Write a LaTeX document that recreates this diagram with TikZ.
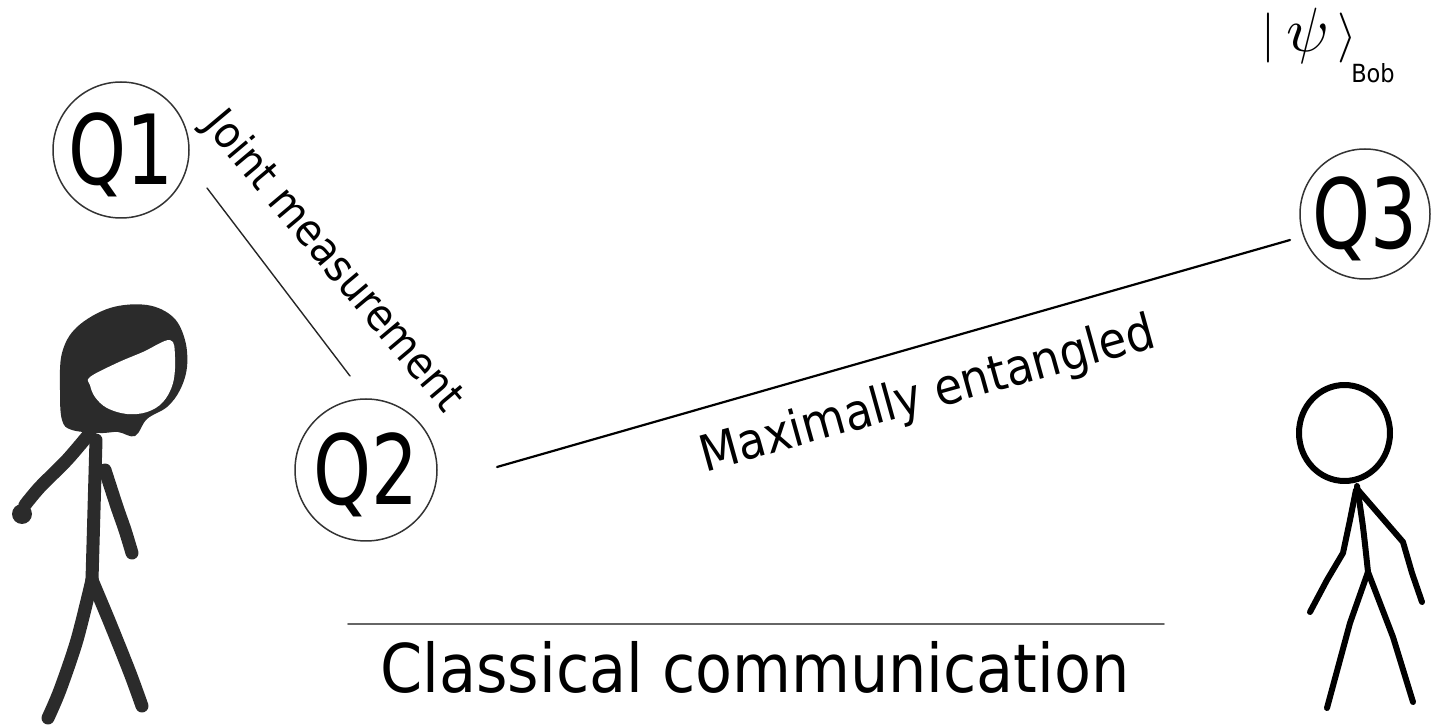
\documentclass[tikz,border=0pt]{standalone}
\usepackage{graphicx}
\usepackage{fontspec}
\setmainfont{DejaVu Sans Condensed}
\newcommand\setfs[1]{\fontsize{#1pt}{#1pt}\selectfont}
\definecolor{alicegray}{HTML}{2B2B2B}
\begin{document}
\begin{tikzpicture}[x=0.5pt,y=-0.5pt,
  qubit/.style={circle,draw=black!80,line width=0.75pt,minimum size=#1,
    inner sep=0pt,text height=35pt,text depth=0pt,font=\setfs{41}},
  link/.style={line width=#1,line cap=round},
  tag/.style={inner sep=0pt,font=\setfs{22}},
  alice/.style={draw=alicegray,line width=6.5pt,line cap=round,line join=round},
  bob/.style={draw=black,line width=3pt,line cap=round,line join=round}]
\useasboundingbox (0,0) rectangle (1432,727);

% qubits
\node[qubit=68pt] (q1) at (121,150) {\scalebox{1}[1.18]{Q1}};
\node[qubit=71pt] (q2) at (366,470) {\scalebox{1}[1.18]{Q2}};
\node[qubit=65pt] (q3) at (1365,214) {\scalebox{1}[1.18]{Q3}};

% connector ends
\coordinate (j1) at (207,188);
\coordinate (j2) at (350,376);
\coordinate (e1) at (497,467);
\coordinate (e2) at (1290,240);
\coordinate (c1) at (348,624);
\coordinate (c2) at (1164,624);

\draw[link=0.7pt,draw=black!85] (j1) -- (j2);
\draw[link=1.1pt] (e1) -- (e2);
\draw[link=0.9pt,draw=black!60] (c1) -- (c2);

% labels
\node[tag,rotate=-50] (joint) at (333,262) {Joint measurement};
\node[tag,font=\setfs{25},rotate=15.5] (maxent) at (928,396) {Maximally entangled};
\node[inner sep=0pt,anchor=base,font=\setfs{33.6}] (classical) at (755,692) {Classical communication};
\node[inner sep=0pt] (ket) at (1309,36) {\scalebox{2.5}{$|\mkern4mu\raisebox{-0.3pt}{\scalebox{1.25}{$\psi$}}\mkern3mu\rangle$}};
\node[inner sep=0pt,anchor=base,font=\setfs{12.5}] (bob) at (1373,83) {Bob};

% Alice: head with hair, then face
\fill[alicegray] plot[smooth cycle,tension=0.6] coordinates {
  (62,353) (77,327) (110,308) (147,305) (173,317) (185,340) (187,367)
  (180,390) (167,407) (147,419) (135,436) (118,432) (100,433) (72,430)
  (62,420) (60,390)};
\fill[white] plot[smooth cycle,tension=0.6] coordinates {
  (90,377) (117,363) (143,352) (170,340) (175,357) (173,383) (163,402)
  (147,412) (127,414) (107,408) (95,397) (90,385)};
% Alice: body
\draw[alice] plot[smooth] coordinates {(96,440) (94,510) (92,580)};
\draw[alice] plot[smooth] coordinates {(90,433) (67,460) (40,487) (25,505)};
\fill[alicegray] (22,514) circle[radius=10];
\draw[alice] plot[smooth] coordinates {(105,470) (117,507) (125,530) (132,553)};
\draw[alice] plot[smooth] coordinates {(92,580) (77,640) (60,690) (48,718)};
\draw[alice] plot[smooth] coordinates {(92,580) (110,623) (130,673) (142,706)};

% Bob
\draw[bob] (1344.5,433) ellipse[x radius=45.5,y radius=48];
\draw[bob] plot[smooth] coordinates {(1357,486) (1363,527) (1368,572)};
\draw[bob] (1356,490) -- (1350,520) -- (1343,553) -- (1327,580) -- (1310,612);
\draw[bob] (1358,490) -- (1403,542) -- (1412,573) -- (1422,602);
\draw[bob] (1368,572) -- (1350,623) -- (1327,708);
\draw[bob] (1368,572) -- (1393,637) -- (1413,702);
\end{tikzpicture}
\end{document}
